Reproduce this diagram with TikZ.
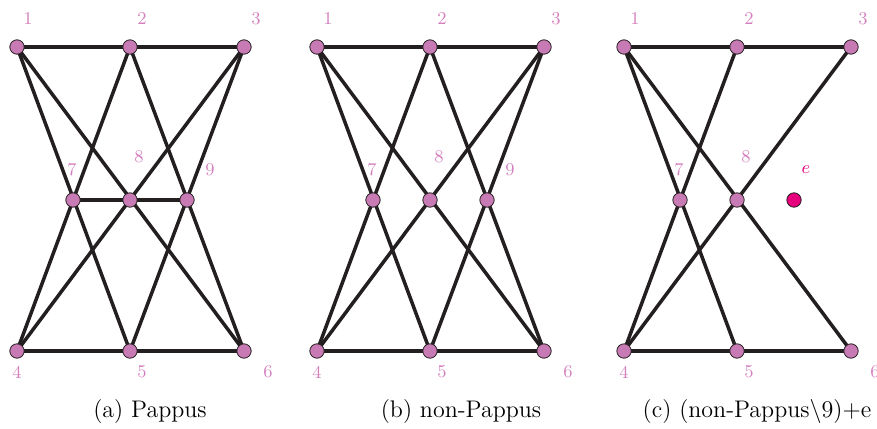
\documentclass[tikz,border=0pt]{standalone}
\usetikzlibrary{backgrounds}
\definecolor{nodepink}{RGB}{200,122,180}
\definecolor{labpink}{RGB}{212,128,190}
\definecolor{emag}{RGB}{230,0,126}
\definecolor{edgecol}{RGB}{35,31,32}
\begin{document}
\begin{tikzpicture}[x=0.5pt,y=-0.5pt,
  ptnode/.style={circle,draw=edgecol,line width=0.4pt,fill=nodepink,inner sep=0pt,minimum size=7.2pt},
  eptnode/.style={ptnode,fill=emag},
  labnode/.style={text=labpink,font=\fontsize{9}{10}\selectfont,inner sep=0pt},
  edgeline/.style={draw=edgecol,line width=1.75pt},
  captext/.style={font=\fontsize{12}{14}\selectfont,inner sep=0pt}]
\useasboundingbox (0,0) rectangle (877,428);
% points common to all panels
\foreach \p/\x in {a/17,b/317,c/624}{
  \node[ptnode] (\p1) at (\x,47) {};
  \node[ptnode] (\p2) at (\x+113,47) {};
  \node[ptnode] (\p3) at (\x+227,47) {};
  \node[ptnode] (\p7) at (\x+56,200) {};
  \node[ptnode] (\p8) at (\x+113,200) {};
  \node[ptnode] (\p4) at (\x,351) {};
  \node[ptnode] (\p5) at (\x+113,351) {};
  \node[ptnode] (\p6) at (\x+227,351) {};
  \node[labnode] (\p l1) at (\x+11,19) {1};
  \node[labnode] (\p l2) at (\x+125,19) {2};
  \node[labnode] (\p l3) at (\x+239,19) {3};
  \node[labnode] (\p l7) at (\x+55,170) {7};
  \node[labnode] (\p l8) at (\x+122,157) {8};
  \node[labnode] (\p l4) at (\x,372) {4};
  \node[labnode] (\p l5) at (\x+125,372) {5};
  \node[labnode] (\p l6) at (\x+251,372) {6};
}
\node[ptnode] (a9) at (187,200) {};
\node[ptnode] (b9) at (487,200) {};
\node[labnode] (al9) at (210,170) {9};
\node[labnode] (bl9) at (510,170) {9};
\node[eptnode] (ce) at (794,200) {};
\node[labnode,text=emag] (cle) at (806,170) {$e$};
\begin{pgfonlayer}{background}
  \foreach \p in {a,b}{
    \draw[edgeline] (\p1.center) -- (\p3.center);
    \draw[edgeline] (\p4.center) -- (\p6.center);
    \draw[edgeline] (\p1.center) -- (\p5.center);
    \draw[edgeline] (\p1.center) -- (\p6.center);
    \draw[edgeline] (\p2.center) -- (\p4.center);
    \draw[edgeline] (\p2.center) -- (\p6.center);
    \draw[edgeline] (\p3.center) -- (\p4.center);
    \draw[edgeline] (\p3.center) -- (\p5.center);
  }
  \draw[edgeline] (a7.center) -- (a9.center);
  \draw[edgeline] (c1.center) -- (c3.center);
  \draw[edgeline] (c4.center) -- (c6.center);
  \draw[edgeline] (c1.center) -- (c5.center);
  \draw[edgeline] (c1.center) -- (c6.center);
  \draw[edgeline] (c2.center) -- (c4.center);
  \draw[edgeline] (c3.center) -- (c4.center);
\end{pgfonlayer}
\node[captext] (capa) at (150,412) {(a) Pappus};
\node[captext] (capb) at (461,412) {(b) non-Pappus};
\node[captext] (capc) at (757,412) {(c) (non-Pappus$\backslash$9)+e};
\end{tikzpicture}
\end{document}
